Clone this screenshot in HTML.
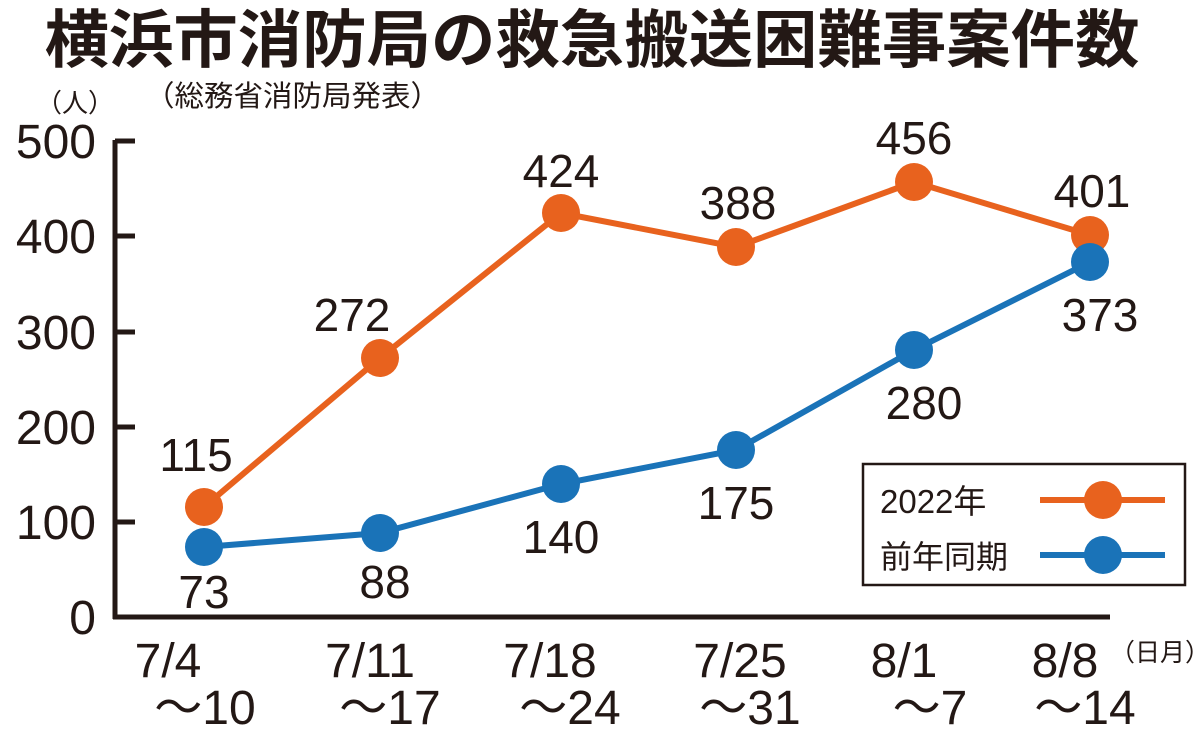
<!DOCTYPE html>
<html><head><meta charset="utf-8"><style>
html,body{margin:0;padding:0;background:#fff;}
svg{display:block;}
text{font-family:"Liberation Sans","Noto Sans CJK JP",sans-serif;fill:#231815;}
</style></head><body>
<svg width="1200" height="740" viewBox="0 0 1200 740" xmlns="http://www.w3.org/2000/svg">
<text x="592" y="62" font-size="63" font-weight="bold" text-anchor="middle" font-family="Noto Sans CJK JP, sans-serif" textLength="1095" lengthAdjust="spacingAndGlyphs">横浜市消防局の救急搬送困難事案件数</text>
<text x="145" y="106" font-size="29" font-family="Noto Sans CJK JP, sans-serif" textLength="295" lengthAdjust="spacingAndGlyphs">（総務省消防局発表）</text>
<text x="36" y="112" font-size="26" font-family="Noto Sans CJK JP, sans-serif">（人）</text>
<g stroke="#231815" stroke-width="5" fill="none">
<line x1="115" y1="140" x2="115" y2="619"/>
<line x1="113" y1="617" x2="1110" y2="617"/>
<line x1="115" y1="141" x2="135" y2="141"/>
<line x1="115" y1="236" x2="135" y2="236"/>
<line x1="115" y1="332" x2="135" y2="332"/>
<line x1="115" y1="427" x2="135" y2="427"/>
<line x1="115" y1="522" x2="135" y2="522"/>
</g>
<g font-size="48" text-anchor="end">
<text x="96" y="158">500</text>
<text x="96" y="253">400</text>
<text x="96" y="349">300</text>
<text x="96" y="444">200</text>
<text x="96" y="539">100</text>
<text x="96" y="634">0</text>
</g>
<polyline points="204,507 380,358 561,213 736,247 914,182 1090,235" fill="none" stroke="#e8621e" stroke-width="6"/>
<polyline points="204,547 380,533 561,484 736,450 914,350 1090,262" fill="none" stroke="#1a73b8" stroke-width="6"/>
<g fill="#e8621e"><circle cx="204" cy="507" r="19"/><circle cx="380" cy="358" r="19"/><circle cx="561" cy="213" r="19"/><circle cx="736" cy="247" r="19"/><circle cx="914" cy="182" r="19"/><circle cx="1090" cy="235" r="19"/></g>
<g fill="#1a73b8"><circle cx="204" cy="547" r="19"/><circle cx="380" cy="533" r="19"/><circle cx="561" cy="484" r="19"/><circle cx="736" cy="450" r="19"/><circle cx="914" cy="350" r="19"/><circle cx="1090" cy="262" r="19"/></g>
<g font-size="46" text-anchor="middle">
<text x="196" y="471">115</text>
<text x="352" y="331">272</text>
<text x="561" y="187">424</text>
<text x="738" y="219">388</text>
<text x="914" y="154">456</text>
<text x="1092" y="207">401</text>
<text x="204" y="608">73</text>
<text x="385" y="598">88</text>
<text x="561" y="553">140</text>
<text x="736" y="519">175</text>
<text x="924" y="419">280</text>
<text x="1100" y="331">373</text>
</g>
<rect x="863" y="464" width="322" height="121" fill="#fff" stroke="#231815" stroke-width="2.5"/>
<text x="880" y="513" font-size="33" font-family="Liberation Sans, Noto Sans CJK JP, sans-serif">2022年</text>
<text x="880" y="568" font-size="32" font-family="Noto Sans CJK JP, sans-serif">前年同期</text>
<line x1="1040" y1="500" x2="1165" y2="500" stroke="#e8621e" stroke-width="6"/>
<circle cx="1103" cy="500" r="19" fill="#e8621e"/>
<line x1="1040" y1="555" x2="1165" y2="555" stroke="#1a73b8" stroke-width="6"/>
<circle cx="1103" cy="555" r="19" fill="#1a73b8"/>
<g font-size="48" text-anchor="middle">
<text x="168" y="677">7/4</text><text x="205" y="724">〜10</text>
<text x="370" y="677">7/11</text><text x="390" y="724">〜17</text>
<text x="550" y="677">7/18</text><text x="570" y="724">〜24</text>
<text x="740" y="677">7/25</text><text x="750" y="724">〜31</text>
<text x="904" y="677">8/1</text><text x="930" y="724">〜7</text>
<text x="1065" y="677">8/8</text><text x="1085" y="724">〜14</text>
</g>
<text x="1110" y="661" font-size="25" font-family="Noto Sans CJK JP, sans-serif">（日月）</text>
</svg>
</body></html>
